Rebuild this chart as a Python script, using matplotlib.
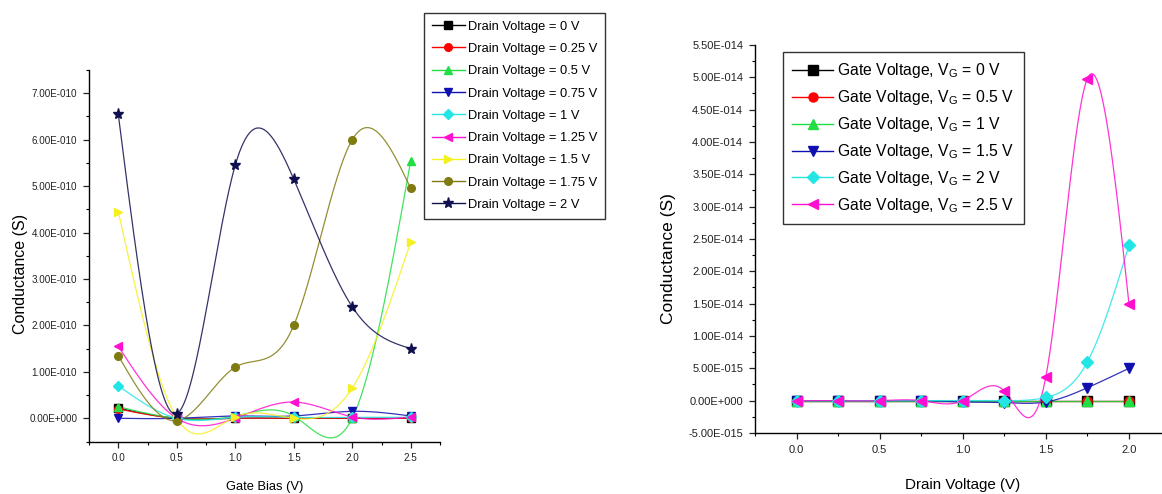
import matplotlib
matplotlib.use("Agg")
import matplotlib.pyplot as plt
import numpy as np
from matplotlib import font_manager
from matplotlib.ticker import FuncFormatter, MultipleLocator

# left panel: conductance vs gate bias, one curve per drain voltage (units of 1e-10 S)
gate_bias = [0.0, 0.5, 1.0, 1.5, 2.0, 2.5]
drain_labels = ["0", "0.25", "0.5", "0.75", "1", "1.25", "1.5", "1.75", "2"]
g_vd_0 = [0.22, 0.0, 0.0, 0.0, 0.0, 0.0]
g_vd_025 = [0.20, 0.0, 0.0, 0.0, 0.0, 0.0]
g_vd_05 = [0.25, 0.0, 0.05, 0.05, 0.0, 5.55]
g_vd_075 = [0.0, 0.0, 0.05, 0.05, 0.15, 0.05]
g_vd_1 = [0.70, 0.0, 0.02, 0.02, 0.02, 0.02]
g_vd_125 = [1.55, 0.0, 0.0, 0.35, 0.03, 0.03]
g_vd_15 = [4.45, 0.0, 0.03, 0.0, 0.65, 3.80]
g_vd_175 = [1.35, -0.05, 1.10, 2.00, 6.00, 4.95]
g_vd_2 = [6.55, 0.10, 5.45, 5.15, 2.40, 1.50]

# right panel: conductance vs drain voltage, one curve per gate voltage (units of 1e-15 S)
drain_voltage = [0.0, 0.25, 0.5, 0.75, 1.0, 1.25, 1.5, 1.75, 2.0]
gate_labels = ["0", "0.5", "1", "1.5", "2", "2.5"]
g_vg_0 = [0, 0, 0, 0, 0, 0, 0, 0, 0]
g_vg_05 = [0, 0, 0, 0, 0, 0, 0, 0, 0]
g_vg_1 = [0, 0, 0, 0, 0, 0, 0, 0, 0]
g_vg_15 = [0, 0, 0, 0, -0.2, -0.3, -0.2, 2.0, 5.0]
g_vg_2 = [0, 0, 0, 0, 0, 0, 0.5, 6.0, 24.0]
g_vg_25 = [0, 0, 0, 0, 0, 1.5, 3.7, 49.8, 15.0]

left_series = [g_vd_0, g_vd_025, g_vd_05, g_vd_075, g_vd_1, g_vd_125, g_vd_15, g_vd_175, g_vd_2]
right_series = [g_vg_0, g_vg_05, g_vg_1, g_vg_15, g_vg_2, g_vg_25]

left_colors = ["#000000", "#ff0000", "#22dd44", "#1010b0", "#22e5e5",
               "#ff10d0", "#f5f020", "#807b10", "#101050"]
left_markers = ["s", "o", "^", "v", "D", "<", ">", "o", "*"]
right_colors = ["#000000", "#ff0000", "#22dd44", "#1010b0", "#22e5e5", "#ff10d0"]
right_markers = ["s", "o", "^", "v", "D", "<"]

available = {f.name for f in font_manager.fontManager.ttflist}
narrow = "Liberation Sans Narrow" if "Liberation Sans Narrow" in available else "Liberation Sans"
scale = 1.0 if narrow.endswith("Narrow") else 0.84
plt.rcParams["font.family"] = [narrow, "DejaVu Sans"]
plt.rcParams["mathtext.fontset"] = "custom"
plt.rcParams["mathtext.rm"] = narrow


def spline_curve(x, y, n=300):
    # natural cubic spline through the points, like Origin's spline connect
    x = np.asarray(x, float)
    y = np.asarray(y, float)
    h = np.diff(x)
    k = len(x)
    A = np.zeros((k, k))
    r = np.zeros(k)
    A[0, 0] = A[-1, -1] = 1.0
    for i in range(1, k - 1):
        A[i, i - 1] = h[i - 1]
        A[i, i] = 2 * (h[i - 1] + h[i])
        A[i, i + 1] = h[i]
        r[i] = 3 * ((y[i + 1] - y[i]) / h[i] - (y[i] - y[i - 1]) / h[i - 1])
    c = np.linalg.solve(A, r)
    b = (y[1:] - y[:-1]) / h - h * (2 * c[:-1] + c[1:]) / 3
    d = (c[1:] - c[:-1]) / (3 * h)
    xs = np.linspace(x[0], x[-1], n)
    idx = np.clip(np.searchsorted(x, xs) - 1, 0, k - 2)
    dx = xs - x[idx]
    ys = y[idx] + b[idx] * dx + c[idx] * dx ** 2 + d[idx] * dx ** 3
    return xs, ys


def origin_sci(v, pos):
    if abs(v) < 1e-20:
        return "0.00E+000"
    m, e = f"{v:.2E}".split("E")
    return f"{m}E{int(e):+04d}"


def style_axes(ax, tick_size):
    for side in ("top", "right"):
        ax.spines[side].set_visible(False)
    for side in ("left", "bottom"):
        ax.spines[side].set_linewidth(1.0)
    ax.tick_params(which="major", direction="out", length=4.5, width=0.9,
                   labelsize=tick_size, pad=4, colors="#222222")
    ax.tick_params(which="minor", direction="out", length=2.5, width=0.8)
    ax.yaxis.set_major_formatter(FuncFormatter(origin_sci))


def draw_series(ax, x, series, unit, colors, markers, labels, ms):
    for ys, col, mk, lab in zip(series, colors, markers, labels):
        y = np.asarray(ys, float) * unit
        xs, ss = spline_curve(x, y)
        ax.plot(xs, ss, color=col, lw=0.9, alpha=0.85, zorder=2)
        size = ms + 2.5 if mk == "*" else ms
        ax.plot(x, y, ls="none", marker=mk, ms=size, color=col, mec=col, zorder=3)
        ax.plot([], [], color=col, lw=1.0, marker=mk, ms=size, mec=col, label=lab)


fig = plt.figure(figsize=(11.62, 4.94), dpi=100)

ax1 = fig.add_axes([89 / 1162, 1 - 441.5 / 494, 351 / 1162, 371.5 / 494])
draw_series(ax1, gate_bias, left_series, 1e-10, left_colors, left_markers,
            [f"Drain Voltage = {v} V" for v in drain_labels], 5.5)
ax1.set_xlim(-0.25, 2.75)
ax1.set_ylim(-0.5e-10, 7.5e-10)
ax1.xaxis.set_major_locator(MultipleLocator(0.5))
ax1.xaxis.set_minor_locator(MultipleLocator(0.25))
ax1.yaxis.set_major_locator(MultipleLocator(1e-10))
ax1.yaxis.set_minor_locator(MultipleLocator(0.5e-10))
style_axes(ax1, 8.5 * scale)
ax1.set_xlabel("Gate Bias (V)", fontsize=11 * scale)
ax1.set_ylabel("Conductance (S)", fontsize=11.5, family=["Liberation Sans", "DejaVu Sans"])
ax1.xaxis.set_label_coords(0.5, -0.105)
ax1.yaxis.set_label_coords(-0.175, 0.45)
ax1.legend(loc="upper left", bbox_to_anchor=(424 / 1162, 1 - 13 / 494),
           bbox_transform=fig.transFigure, borderaxespad=0, fontsize=11 * scale,
           handlelength=2.6, handletextpad=0.25, labelspacing=0.8, borderpad=0.6,
           frameon=True, fancybox=False, edgecolor="#333333", framealpha=1)

ax2 = fig.add_axes([755 / 1162, 1 - 433 / 494, 415.5 / 1162, 388 / 494])
draw_series(ax2, drain_voltage, right_series, 1e-15, right_colors, right_markers,
            [f"Gate Voltage, V$_\\mathregular{{G}}$ = {v} V" for v in gate_labels], 6.5)
ax2.set_xlim(-0.25, 2.25)
ax2.set_ylim(-5e-15, 5.5e-14)
ax2.xaxis.set_major_locator(MultipleLocator(0.5))
ax2.xaxis.set_minor_locator(MultipleLocator(0.25))
ax2.yaxis.set_major_locator(MultipleLocator(5e-15))
ax2.yaxis.set_minor_locator(MultipleLocator(2.5e-15))
style_axes(ax2, 9.5 * scale)
ax2.set_xlabel("Drain Voltage (V)", fontsize=13 * scale)
ax2.set_ylabel("Conductance (S)", fontsize=12.5, family=["Liberation Sans", "DejaVu Sans"])
ax2.xaxis.set_label_coords(0.5, -0.115)
ax2.yaxis.set_label_coords(-0.19, 0.45)
ax2.legend(loc="upper left", bbox_to_anchor=(783 / 1162, 1 - 52 / 494),
           bbox_transform=fig.transFigure, borderaxespad=0, fontsize=13.5 * scale,
           handlelength=2.6, handletextpad=0.25, labelspacing=0.5, borderpad=0.6,
           frameon=True, fancybox=False, edgecolor="#333333", framealpha=1)

fig.savefig("out.png", dpi=100)
